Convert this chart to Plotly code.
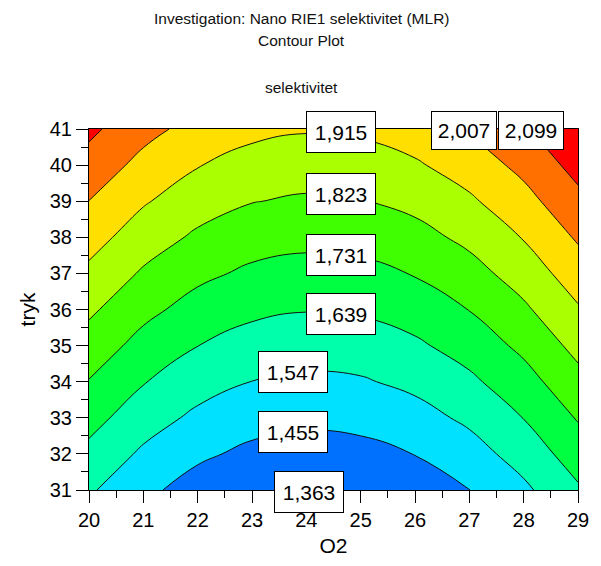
import plotly.graph_objects as go

# ---- data ----
o2 = [20, 21, 22, 23, 24, 25, 26, 27, 28, 29]
tryk = [31, 32, 33, 34, 35, 36, 37, 38, 39, 40, 41]

# estimated selektivitet at each (tryk row, O2 column)
selektivitet = [
    [1.559, 1.477, 1.416, 1.378, 1.363, 1.371, 1.401, 1.454, 1.529, 1.627],  # 31
    [1.615, 1.532, 1.472, 1.434, 1.419, 1.427, 1.457, 1.509, 1.585, 1.683],  # 32
    [1.671, 1.588, 1.528, 1.490, 1.475, 1.483, 1.513, 1.565, 1.641, 1.738],  # 33
    [1.727, 1.644, 1.584, 1.546, 1.531, 1.538, 1.569, 1.621, 1.696, 1.794],  # 34
    [1.783, 1.700, 1.640, 1.602, 1.587, 1.594, 1.624, 1.677, 1.752, 1.850],  # 35
    [1.839, 1.756, 1.696, 1.658, 1.643, 1.650, 1.680, 1.733, 1.808, 1.906],  # 36
    [1.895, 1.812, 1.752, 1.714, 1.699, 1.706, 1.736, 1.789, 1.864, 1.962],  # 37
    [1.951, 1.868, 1.808, 1.770, 1.755, 1.762, 1.792, 1.845, 1.920, 2.018],  # 38
    [2.006, 1.924, 1.863, 1.826, 1.811, 1.818, 1.848, 1.901, 1.976, 2.074],  # 39
    [2.063, 1.980, 1.919, 1.882, 1.866, 1.874, 1.904, 1.957, 2.032, 2.130],  # 40
    [2.119, 2.036, 1.975, 1.937, 1.922, 1.930, 1.960, 2.013, 2.088, 2.186],  # 41
]

contour_levels = [1.363, 1.455, 1.547, 1.639, 1.731, 1.823, 1.915, 2.007, 2.099]
level_labels = ["1,363", "1,455", "1,547", "1,639", "1,731", "1,823", "1,915", "2,007", "2,099"]

# ---- layout (label placement, colours) ----
label_pos = [
    (24.05, 31.0), (23.76, 32.62), (23.76, 34.26), (24.64, 35.88),
    (24.64, 37.52), (24.64, 39.19), (24.64, 40.92), (26.90, 40.95), (28.14, 40.95),
]
band_colors = ["#0070FF", "#00E1FF", "#00FFAA", "#00FF40", "#40FF00",
               "#AAFF00", "#FFDF00", "#FF7000", "#FF0000"]
n = len(band_colors)
colorscale = [[i / (n - 1), c] for i, c in enumerate(band_colors)]

FONT = "Liberation Sans, Arial, sans-serif"

fig = go.Figure()
fig.add_trace(go.Contour(
    x=o2, y=tryk, z=selektivitet,
    autocontour=False,
    contours=dict(start=contour_levels[1], end=contour_levels[-1],
                  size=round(contour_levels[2] - contour_levels[1], 3),
                  coloring="fill", showlines=True),
    line=dict(color="#111111", width=1, smoothing=1.3),
    colorscale=colorscale, showscale=False, hoverinfo="skip",
))

annotations = []
for (lx, ly), txt in zip(label_pos, level_labels):
    big = txt not in ("2,007", "2,099")
    annotations.append(dict(
        x=lx, y=ly, xref="x", yref="y", text=txt, showarrow=False,
        yshift=-2 if txt == "1,363" else 0,
        bgcolor="white", bordercolor="black", borderwidth=1, borderpad=3,
        width=62 if big else 58, height=34 if big else 31,
        font=dict(family=FONT, size=21, color="black"),
    ))

W, H = 601, 566
L, R, T, B = 89, 19, 129, 72
ph = H - T - B
pw = W - L - R
def px_to_paper(px, py):
    return (px - L) / pw, (H - B - py) / ph

for txt, (cx, cy), fs in [
    ("Investigation: Nano RIE1 selektivitet (MLR)", (303, 17), 15.5),
    ("Contour Plot", (303, 40), 15.5),
    ("selektivitet", (303, 87), 15.5),
]:
    ax_, ay_ = px_to_paper(cx, cy)
    annotations.append(dict(x=ax_, y=ay_, xref="paper", yref="paper", text=txt,
                            showarrow=False, xanchor="center", yanchor="middle",
                            font=dict(family=FONT, size=fs, color="#111111")))

axis_common = dict(
    showline=True, linecolor="black", linewidth=1, mirror=True,
    ticks="outside", ticklen=12, tickcolor="black", tickwidth=1,
    showgrid=False, zeroline=False,
    tickfont=dict(family=FONT, size=20, color="black"),
    dtick=1,
    minor=dict(dtick=0.5, ticks="outside", ticklen=7, tickcolor="black", showgrid=False),
)

fig.update_layout(
    width=W, height=H,
    margin=dict(l=L, r=R, t=T, b=B),
    paper_bgcolor="white", plot_bgcolor="white",
    showlegend=False,
    annotations=annotations,
    xaxis=dict(range=[o2[0], o2[-1]], tick0=20,
               title=dict(text="O2", font=dict(family=FONT, size=21, color="black"), standoff=8),
               **axis_common),
    yaxis=dict(range=[tryk[0], tryk[-1]], tick0=31,
               title=dict(text="tryk", font=dict(family=FONT, size=21, color="black"), standoff=8),
               **axis_common),
)

fig.write_html("out.html")
